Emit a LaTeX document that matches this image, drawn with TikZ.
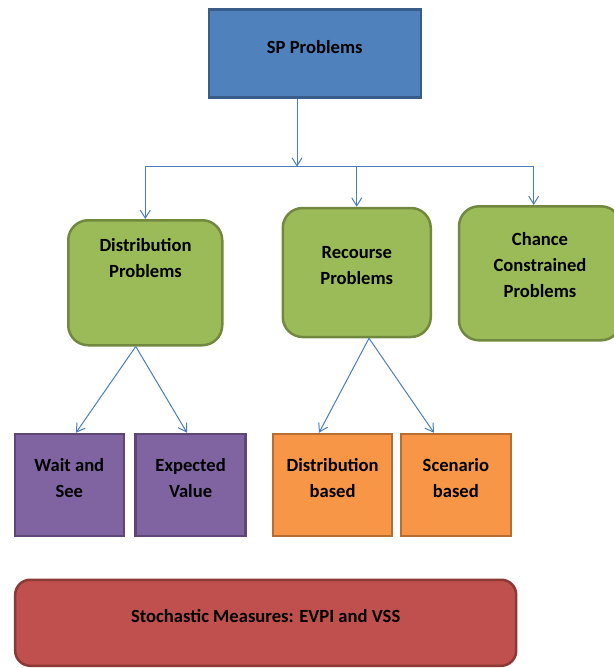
\documentclass[tikz,border=0pt]{standalone}
\usepackage{fontspec}
\setmainfont{Carlito}
\usetikzlibrary{arrows.meta,positioning,calc}
\definecolor{spfill}{HTML}{4F81BD}
\definecolor{spline}{HTML}{385D8A}
\definecolor{grfill}{HTML}{9BBB59}
\definecolor{grline}{HTML}{71893F}
\definecolor{vifill}{HTML}{8064A2}
\definecolor{viline}{HTML}{5C4776}
\definecolor{orfill}{HTML}{F79646}
\definecolor{orline}{HTML}{B66D31}
\definecolor{rdfill}{HTML}{C0504D}
\definecolor{rdline}{HTML}{8C3836}
\definecolor{linkblue}{HTML}{4A7EBB}
\tikzset{
	box/.style={
		line width=2.5pt,
		inner sep=0pt,
	},
	rootbox/.style={box, fill=spfill, draw=spline},
	kindbox/.style={box, fill=grfill, draw=grline, rounded corners=20pt},
	distbox/.style={box, fill=vifill, draw=viline},
	recbox/.style={box, fill=orfill, draw=orline},
	measbox/.style={box, fill=rdfill, draw=rdline, rounded corners=15pt},
	txt/.style={
		align=center,
		inner sep=0pt,
		font=\bfseries\fontsize{18.6}{26}\selectfont,
	},
	link/.style={draw=linkblue, line width=1pt},
}

\begin{document}
\begin{tikzpicture}[x=1pt,y=-1pt,>={Straight Barb[length=8pt,width=10pt]}]
		\useasboundingbox (0,0) rectangle (613,668);
		% boxes
		\node [rootbox, minimum width=212pt, minimum height=88pt] (sp) at (314.75,53.75) {};
		\node [kindbox, minimum width=154pt, minimum height=125pt] (dist) at (145.25,282.75) {};
		\node [kindbox, minimum width=148pt, minimum height=129pt] (rec) at (356.75,272.5) {};
		\node [kindbox, minimum width=162pt, minimum height=134pt] (chance) at (540,273.3) {};
		\node [distbox, minimum width=109pt, minimum height=102pt] (wait) at (69.35,485) {};
		\node [distbox, minimum width=110pt, minimum height=102pt] (ev) at (190.6,485) {};
		\node [recbox, minimum width=119pt, minimum height=102pt] (dbased) at (332.6,485) {};
		\node [recbox, minimum width=110pt, minimum height=102pt] (sbased) at (455.85,485) {};
		\node [measbox, minimum width=501pt, minimum height=86pt] (meas) at (265.7,622.75) {};

		% texts
		\node [txt] (sp-t) at (314.75,46.7) {SP Problems};
		\node [txt] (dist-t) at (145.5,258.3) {Distribution\\Problems};
		\node [txt] (rec-t) at (356.75,265.5) {Recourse\\Problems};
		\node [txt] (chance-t) at (540,265.5) {Chance\\Constrained\\Problems};
		\node [txt] (wait-t) at (69.35,477.6) {Wait and\\See};
		\node [txt] (ev-t) at (190.6,477.6) {Expected\\Value};
		\node [txt] (dbased-t) at (332.6,477.6) {Distribution\\based};
		\node [txt] (sbased-t) at (455.85,477.6) {Scenario\\based};
		\node [txt] (meas-t) at (265.7,615.8) {Stochastic Measures: EVPI and VSS};

		% connectors
		\coordinate (hub) at (297,166.7);
		\coordinate (busL) at (145.25,166.7);
		\coordinate (busR) at (533.7,166.7);
		\draw[link] (busL) -- (busR);
		\draw[link,->] (sp.south -| hub) -- (hub);
		\draw[link,->] (busL) -- (dist.north);
		\draw[link,->] (rec.north |- busL) -- (rec.north);
		\draw[link,->] (busR) -- (busR |- chance.north);

		\coordinate (dist-out) at ([xshift=-9.5pt]dist.south);
		\coordinate (rec-out) at ([xshift=12.25pt]rec.south);
		\draw[link,->] (dist-out) -- ([xshift=6.6pt]wait.north);
		\draw[link,->] (dist-out) -- ([xshift=-3.6pt]ev.north);
		\draw[link,->] (rec-out) -- ([xshift=-13.6pt]dbased.north);
		\draw[link,->] (rec-out) -- ([xshift=-21.85pt]sbased.north);
	\end{tikzpicture}
\end{document}
